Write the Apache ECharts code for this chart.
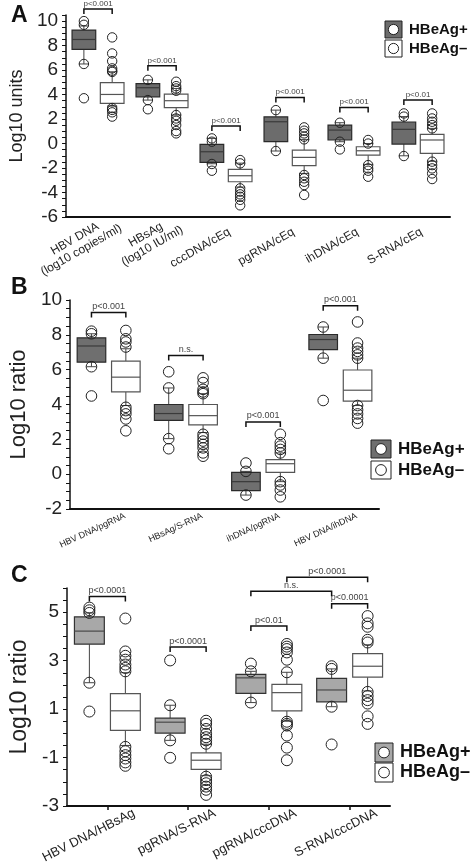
<!DOCTYPE html>
<html><head><meta charset="utf-8">
<script src="https://cdn.jsdelivr.net/npm/echarts@6/dist/echarts.min.js"></script>
<style>html,body{margin:0;padding:0;background:#fff}#c{width:472px;height:866px}</style>
</head><body><div id="c"></div>
<script>
// ---------------- Panel A ----------------
const catsA = ['HBV DNA\n(log10 copies/ml)', 'HBsAg\n(log10 IU/ml)', 'cccDNA/cEq', 'pgRNA/cEq', 'ihDNA/cEq', 'S-RNA/cEq'];
// [min, Q1, median, Q3, max]
const boxAPos = [[6.5,7.7,8.5,9.27,9.6],[3.55,3.82,4.56,4.9,5.2],[-1.65,-1.54,-0.67,-0.07,0.42],[-0.61,0.15,1.78,2.18,2.73],[0.15,0.29,1.1,1.51,1.7],[-1.0,-0.04,1.16,1.76,2.2]];
const boxANeg = [[3.06,3.28,4.01,4.97,5.86],[2.33,2.93,3.5,4.04,4.5],[-3.55,-3.12,-2.63,-2.11,-1.6],[-2.44,-1.81,-1.13,-0.53,0.34],[-1.7,-0.94,-0.59,-0.26,0.0],[-1.45,-0.8,0.29,0.75,1.24]];
const outAPos = [[10.0,9.7,6.5,3.7],[5.2,3.55,2.8],[0.42,0.15,-1.67,-2.22],[2.73,-0.61],[1.7,0.15,-0.48],[2.46,2.2,-1.02]];
const outANeg = [[8.67,7.36,6.73,6.14,5.95,5.85,2.9,2.75,2.55,2.2],[5.05,4.69,4.5,4.31,2.33,2.05,1.86,1.51,1.02,0.83],[-1.35,-1.62,-3.66,-3.93,-4.15,-4.35,-4.6,-5.05],[1.32,1.05,0.83,0.56,0.34,-2.57,-2.84,-3.12,-3.39,-4.2],[0.29,0.0,-1.76,-2.03,-2.22,-2.71],[2.46,2.05,1.78,1.51,1.24,-1.48,-1.76,-2.03,-2.44,-2.9]];
// brackets: [cat1, side1, cat2, side2, y]
const brA = [[0,-1,0,1,10.98],[1,-1,1,1,6.35],[2,-1,2,1,1.43],[3,-1,3,1,3.77],[4,-1,4,1,2.95],[5,-1,5,1,3.55]];
const brALabels = ['p<0.001','p<0.001','p<0.001','p<0.001','p<0.001','p<0.01'];

// ---------------- Panel B ----------------
const catsB = ['HBV DNA/pgRNA', 'HBsAg/S-RNA', 'ihDNA/pgRNA', 'HBV DNA/ihDNA'];
const boxBPos = [[6.17,6.43,7.36,7.83,8.06],[2.04,3.09,3.48,4.0,4.95],[-1.2,-0.95,-0.43,0.1,0.16],[6.66,7.15,7.73,8.02,8.45]];
const boxBNeg = [[3.94,4.72,5.57,6.49,7.2],[2.39,2.83,3.36,4.0,4.62],[-0.43,0.1,0.6,0.83,1.22],[3.94,4.19,4.82,5.98,6.66]];
const outBPos = [[8.21,8.06,6.17,4.49],[5.88,4.95,2.04,1.46],[0.64,0.16,-1.2],[8.45,6.66,4.23]];
const outBNeg = [[8.25,7.77,7.59,7.3,3.84,3.65,3.46,3.17,2.49],[5.53,5.26,4.87,4.72,4.62,2.29,2.1,1.9,1.71,1.51,1.22,1.03],[2.29,1.81,1.61,1.42,1.22,-0.43,-0.62,-0.91,-1.3],[8.74,7.53,7.24,7.05,6.85,6.66,3.94,3.69,3.46,3.2,2.93]];
const brB = [[0,-1,0,1,9.28],[1,-1,1,1,6.82],[2,-1,2,1,3.0],[3,-1,3,1,9.67]];
const brBLabels = ['p<0.001','n.s.','p<0.001','p<0.001'];

// ---------------- Panel C ----------------
const catsC = ['HBV DNA/HBsAg', 'pgRNA/S-RNA', 'pgRNA/cccDNA', 'S-RNA/cccDNA'];
const boxCPos = [[2.09,3.68,4.22,4.81,4.97],[-0.29,0.01,0.46,0.63,1.16],[1.27,1.65,2.29,2.43,2.56],[1.1,1.3,1.79,2.27,2.66]];
const boxCNeg = [[-0.5,0.12,0.93,1.64,2.5],[-1.75,-1.49,-1.11,-0.81,-0.45],[0.5,0.93,1.68,2.02,2.52],[1.75,2.32,2.77,3.29,3.65]];
const outCPos = [[5.19,5.08,4.97,2.09,0.9],[3.01,1.16,-0.29,-1.01],[2.88,2.56,1.27],[2.77,2.66,1.1,-0.46]];
const outCNeg = [[4.74,3.38,3.2,3.04,2.84,2.7,2.56,-0.56,-0.74,-0.9,-1.04,-1.2,-1.34],[0.52,0.39,0.18,-0.02,-0.16,-0.29,-0.43,-1.79,-1.93,-2.06,-2.2,-2.33,-2.54],[3.69,3.58,3.48,3.34,3.04,2.52,0.48,0.39,0.32,-0.09,-0.59,-1.11],[4.84,4.54,4.4,3.86,3.75,1.71,1.54,1.37,1.23,0.7,0.39]];
const brC = [[0,-1,0,1,5.65],[1,-1,1,1,3.56],[2,-1,2,1,4.43],[3,-1,3,1,5.35],[2,-1,3,-1,5.87],[2,1,3,1,6.44]];
const brCLabels = ['p<0.0001','p<0.0001','p<0.01','p<0.0001','n.s.','p<0.0001'];

// ---------------- drawing ----------------
const FONT = '"Liberation Sans", Arial, Helvetica, sans-serif';
const chart = echarts.init(document.getElementById('c'), null, {renderer: 'canvas'});

function sideOffset(band) { return (band * 0.8 - 2) * 0.2875; }

function boxSeries(idx, boxes, sign, fill, stroke, medColor) {
  const data = boxes.map((b, i) => [i].concat(b));
  return {
    type: 'custom', xAxisIndex: idx, yAxisIndex: idx, clip: false, silent: true,
    encode: {x: 0, y: [1, 2, 3, 4, 5]},
    data: data,
    renderItem: function (params, api) {
      const band = api.size([1, 0])[0];
      const off = sideOffset(band) * sign;
      const w = band * 0.37;
      const pMin = api.coord([api.value(0), api.value(1)]);
      const pQ1 = api.coord([api.value(0), api.value(2)]);
      const pMed = api.coord([api.value(0), api.value(3)]);
      const pQ3 = api.coord([api.value(0), api.value(4)]);
      const pMax = api.coord([api.value(0), api.value(5)]);
      const x = pMed[0] + off;
      const cw = 5;
      const ls = {stroke: '#444', lineWidth: 1};
      return {type: 'group', children: [
        {type: 'line', shape: {x1: x, y1: pQ3[1], x2: x, y2: pMax[1]}, style: ls},
        {type: 'line', shape: {x1: x, y1: pQ1[1], x2: x, y2: pMin[1]}, style: ls},
        {type: 'line', shape: {x1: x - cw, y1: pMax[1], x2: x + cw, y2: pMax[1]}, style: ls},
        {type: 'line', shape: {x1: x - cw, y1: pMin[1], x2: x + cw, y2: pMin[1]}, style: ls},
        {type: 'rect', shape: {x: x - w / 2, y: pQ3[1], width: w, height: pQ1[1] - pQ3[1]}, style: {fill: fill, stroke: stroke, lineWidth: 1.2}},
        {type: 'line', shape: {x1: x - w / 2, y1: pMed[1], x2: x + w / 2, y2: pMed[1]}, style: {stroke: medColor, lineWidth: 1.2}}
      ]};
    }
  };
}

function outlierSeries(idx, outs, sign, r) {
  const data = [];
  outs.forEach((arr, i) => arr.forEach(v => data.push([i, v])));
  return {
    type: 'custom', xAxisIndex: idx, yAxisIndex: idx, clip: false, silent: true, z: 5,
    encode: {x: 0, y: 1},
    data: data,
    renderItem: function (params, api) {
      const band = api.size([1, 0])[0];
      const p = api.coord([api.value(0), api.value(1)]);
      return {type: 'circle', shape: {cx: p[0] + sideOffset(band) * sign, cy: p[1], r: r},
        style: {fill: 'rgba(255,255,255,0)', stroke: '#222', lineWidth: 1}};
    }
  };
}

function bracketSeries(idx, brs, labels, fs) {
  return {
    type: 'custom', xAxisIndex: idx, yAxisIndex: idx, clip: false, silent: true, z: 6,
    encode: {x: [0, 2], y: 4},
    data: brs,
    renderItem: function (params, api) {
      const band = api.size([1, 0])[0];
      const off = sideOffset(band);
      const p1 = api.coord([api.value(0), api.value(4)]);
      const p2 = api.coord([api.value(2), api.value(4)]);
      const x1 = p1[0] + api.value(1) * off, x2 = p2[0] + api.value(3) * off, y = p1[1];
      return {type: 'group', children: [
        {type: 'polyline', shape: {points: [[x1, y + 5], [x1, y], [x2, y], [x2, y + 5]]}, style: {stroke: '#111', lineWidth: 1.5, fill: null}},
        {type: 'text', style: {text: labels[params.dataIndex], x: (x1 + x2) / 2, y: y - 1.5, align: 'center', verticalAlign: 'bottom', fontSize: fs, fontFamily: FONT, fill: '#444'}}
      ]};
    }
  };
}

function yAxis(idx, min, max, name, nameSize, nameGap, show) {
  return {
    type: 'value', gridIndex: idx, min: min, max: max, interval: 0.5,
    name: name, nameLocation: 'middle', nameRotate: 90, nameGap: nameGap,
    nameTextStyle: {fontSize: nameSize, fontFamily: FONT, color: '#222'},
    splitLine: {show: false},
    axisLine: {show: true, onZero: false, lineStyle: {color: '#111', width: 1.5}},
    axisTick: {show: true, length: 4, lineStyle: {color: '#111', width: 1}},
    axisLabel: {fontSize: 19, fontFamily: FONT, color: '#222', margin: 8,
      formatter: function (v) { return show(v) ? String(v) : ''; }}
  };
}

const richTwo = {
  l1: {width: 54, align: 'center', fontSize: 12, fontFamily: FONT, color: '#222', lineHeight: 13},
  l2: {width: 38, align: 'center', fontSize: 12, fontFamily: FONT, color: '#222', lineHeight: 13}
};

const option = {
  backgroundColor: '#fff',
  animation: false,
  grid: [
    {left: 65, top: 15, width: 385, height: 202},
    {left: 65, top: 300, width: 314, height: 209},
    {left: 65, top: 588, width: 325, height: 218}
  ],
  xAxis: [
    {type: 'category', gridIndex: 0, data: catsA,
      axisLine: {onZero: false, lineStyle: {color: '#111', width: 2}}, axisTick: {show: false},
      axisLabel: {interval: 0, rotate: 30, fontSize: 12, fontFamily: FONT, color: '#222', margin: 16, padding: [0, -4, 0, 0],
        formatter: function (v) {
          if (v.indexOf('\n') < 0) return v;
          const p = v.split('\n');
          const st = p[0].indexOf('HBV') === 0 ? 'l1' : 'l2';
          return '{' + st + '|' + p[0] + '}\n{' + st + '|' + p[1] + '}';
        }, rich: richTwo}},
    {type: 'category', gridIndex: 1, data: catsB,
      axisLine: {onZero: false, lineStyle: {color: '#111', width: 2}}, axisTick: {show: false},
      axisLabel: {interval: 0, rotate: 25, fontSize: 9, fontFamily: FONT, color: '#222', margin: 14, padding: [0, -18, 0, 0]}},
    {type: 'category', gridIndex: 2, data: catsC,
      axisLine: {onZero: false, lineStyle: {color: '#111', width: 2}},
      axisTick: {show: true, alignWithLabel: true, length: 4, lineStyle: {color: '#111', width: 1.5}},
      axisLabel: {interval: 0, rotate: 27, fontSize: 13, fontFamily: FONT, color: '#222', margin: 20, padding: [0, -30, 0, 0]}}
  ],
  yAxis: [
    yAxis(0, -6, 10.5, 'Log10 units', 18, 40, v => Math.abs(v % 2) < 1e-9),
    yAxis(1, -2, 10, 'Log10 ratio', 22, 38, v => Math.abs(v % 2) < 1e-9),
    yAxis(2, -3, 6, 'Log10 ratio', 23, 36, v => Math.abs(Math.abs(v % 2) - 1) < 1e-9)
  ],
  series: [
    boxSeries(0, boxAPos, -1, '#6c6c6c', '#2a2a2a', '#3a3a3a'),
    boxSeries(0, boxANeg, 1, '#ffffff', '#555555', '#555555'),
    outlierSeries(0, outAPos, -1, 4.7),
    outlierSeries(0, outANeg, 1, 4.7),
    bracketSeries(0, brA, brALabels, 8),
    boxSeries(1, boxBPos, -1, '#6f6f6f', '#2a2a2a', '#3a3a3a'),
    boxSeries(1, boxBNeg, 1, '#ffffff', '#555555', '#555555'),
    outlierSeries(1, outBPos, -1, 5.3),
    outlierSeries(1, outBNeg, 1, 5.3),
    bracketSeries(1, brB, brBLabels, 9),
    boxSeries(2, boxCPos, -1, '#a8a8a8', '#333333', '#4a4a4a'),
    boxSeries(2, boxCNeg, 1, '#ffffff', '#555555', '#555555'),
    outlierSeries(2, outCPos, -1, 5.5),
    outlierSeries(2, outCNeg, 1, 5.5),
    bracketSeries(2, brC, brCLabels, 9)
  ],
  graphic: [
    {type: 'text', left: 11, top: 4, style: {text: 'A', fontSize: 23, fontWeight: 'bold', fontFamily: FONT, fill: '#111'}},
    {type: 'text', left: 11, top: 276, style: {text: 'B', fontSize: 23, fontWeight: 'bold', fontFamily: FONT, fill: '#111'}},
    {type: 'text', left: 11, top: 564, style: {text: 'C', fontSize: 23, fontWeight: 'bold', fontFamily: FONT, fill: '#111'}}
  ]
};

function legend(x, y, w, h, gap, fill, fs) {
  const items = [];
  [[fill, 'HBeAg+'], ['#ffffff', 'HBeAg\u2013']].forEach((it, k) => {
    const yy = y + k * (h + gap);
    items.push({type: 'rect', shape: {x: x, y: yy, width: w, height: h}, style: {fill: it[0], stroke: '#222', lineWidth: 1}});
    items.push({type: 'circle', shape: {cx: x + w / 2, cy: yy + h / 2, r: Math.min(w, h) * 0.3}, style: {fill: '#fff', stroke: '#222', lineWidth: 1}});
    items.push({type: 'text', x: x + w + 7, y: yy + h / 2, style: {text: it[1], fontSize: fs, fontWeight: 'bold', fontFamily: FONT, fill: '#111', verticalAlign: 'middle', align: 'left'}});
  });
  return items;
}
option.graphic = option.graphic.concat(
  legend(385, 21, 17, 17, 2, '#6c6c6c', 15),
  legend(371, 440, 20, 18, 3, '#6f6f6f', 17),
  legend(375, 743, 18, 19, 1, '#a8a8a8', 18)
);

chart.setOption(option);
</script>
</body></html>
